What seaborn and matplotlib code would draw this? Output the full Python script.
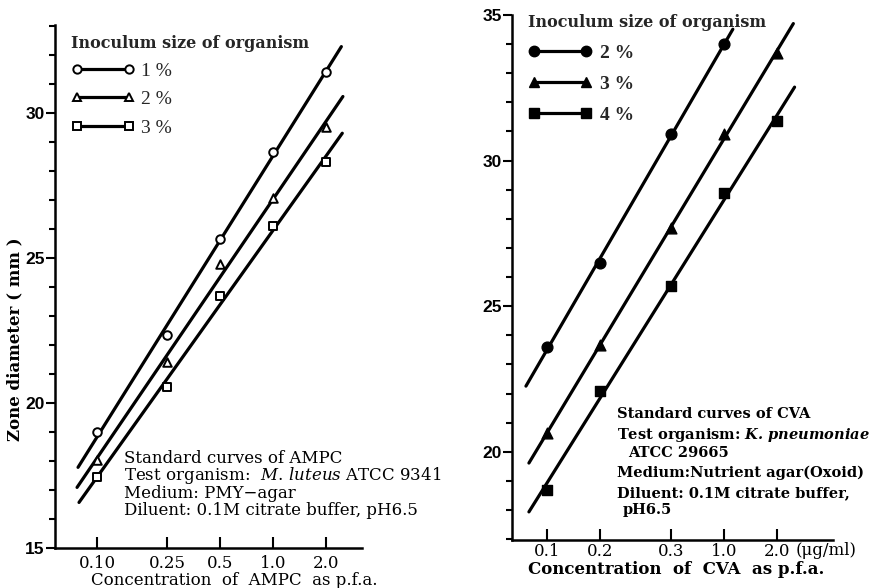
import numpy as np
import pandas as pd
import matplotlib
matplotlib.use('Agg')
import matplotlib.pyplot as plt
from matplotlib.lines import Line2D
from matplotlib.ticker import MultipleLocator, NullLocator, FixedLocator
import seaborn as sns

# ── Data ──────────────────────────────────────────────────
AMPC_CONC  = [0.10, 0.25, 0.5, 1.0, 2.0]
AMPC_TICKS = ['0.10', '0.25', '0.5', '1.0', '2.0']
AMPC_1PCT  = [19.0, 22.35, 25.65, 28.65, 31.4]
AMPC_2PCT  = [18.05, 21.4, 24.8, 27.05, 29.5]
AMPC_3PCT  = [17.45, 20.55, 23.7, 26.1, 28.3]
AMPC_LINE_X = [[0.078, 2.45], [0.077, 2.5], [0.079, 2.48]]

CVA_CONC   = [0.1, 0.2, 0.5, 1.0, 2.0]
CVA_TICKS  = ['0.1', '0.2', '0.3', '1.0', '2.0']
CVA_2PCT   = [23.6, 26.5, 30.9, 34.0]
CVA_3PCT   = [20.65, 23.65, 27.7, 30.9, 33.7]
CVA_4PCT   = [18.7, 22.1, 25.7, 28.9, 31.35]
CVA_LINE_X = [[0.076, 1.12], [0.079, 2.46], [0.079, 2.5]]

AMPC_LABELS = ['1 %', '2 %', '3 %']
CVA_LABELS  = ['2 %', '3 %', '4 %']

SERIF = ['DejaVu Serif']
NARROW = ['Liberation Serif', 'DejaVu Serif']

sns.set_theme(style='ticks')
plt.rcParams['font.family'] = SERIF
plt.rcParams['mathtext.fontset'] = 'custom'
plt.rcParams['mathtext.rm'] = 'DejaVu Serif'
plt.rcParams['mathtext.it'] = 'DejaVu Serif:italic'
plt.rcParams['mathtext.bf'] = 'DejaVu Serif:bold:italic'
plt.rcParams['axes.linewidth'] = 1.8


def fit_line(conc, vals, xr):
    # straight line of zone diameter against log concentration
    k, b = np.polyfit(np.log10(conc[:len(vals)]), vals, 1)
    xs = np.array(xr)
    return pd.DataFrame({'x': xs, 'y': k * np.log10(xs) + b})


def style_axes(ax, xlim, ylim, ticks, labels, xpad):
    ax.set_xscale('log')
    ax.set_xlim(*xlim)
    ax.set_ylim(*ylim)
    ax.xaxis.set_major_locator(FixedLocator(ticks))
    ax.xaxis.set_minor_locator(NullLocator())
    ax.set_xticklabels(labels, fontsize=12, family=SERIF)
    ax.yaxis.set_major_locator(MultipleLocator(5))
    ax.yaxis.set_minor_locator(MultipleLocator(1))
    for t in ax.get_yticklabels():
        t.set_family(['Liberation Sans', 'DejaVu Sans'])
        t.set_fontsize(12.5)
        t.set_fontweight('bold')
    ax.tick_params(axis='x', direction='in', length=8, width=1.5, pad=xpad, color='black', labelcolor='black')
    ax.tick_params(axis='y', which='major', direction='out', length=6.5, width=1.5, pad=1, color='black', labelcolor='black')
    ax.tick_params(axis='y', which='minor', direction='out', length=4, width=1.5, color='black')
    sns.despine(ax=ax)
    for s in ['left', 'bottom']:
        ax.spines[s].set_color('black')


fig = plt.figure(figsize=(8.71, 5.88), dpi=100)
ax1 = fig.add_axes([55 / 871, 1 - 548 / 588, 307 / 871, 523 / 588])
ax2 = fig.add_axes([512 / 871, 1 - 540 / 588, 321 / 871, 525 / 588])

# ── Left panel: AMPC ─────────────────────────────────────
ampc_series = [AMPC_1PCT, AMPC_2PCT, AMPC_3PCT]
ampc_marks = ['o', '^', 's']
for vals, xr, m in zip(ampc_series, AMPC_LINE_X, ampc_marks):
    line = fit_line(AMPC_CONC, vals, xr)
    sns.lineplot(data=line, x='x', y='y', ax=ax1, color='black', lw=2.3)
    sns.scatterplot(x=AMPC_CONC, y=vals, ax=ax1, marker=m, s=38,
                    facecolor='white', edgecolor='black', linewidth=1.4, zorder=3)

style_axes(ax1, (0.0577, 3.21), (15, 33.03), AMPC_CONC, AMPC_TICKS, xpad=5)
ax1.set_xlabel('Concentration  of  AMPC  as p.f.a.', fontsize=12, color='black')
ax1.xaxis.set_label_coords(0.585, -0.045)
ax1.set_ylabel('Zone diameter ( mm )', fontsize=12, fontweight='bold', color='black')
ax1.yaxis.set_label_coords(-0.104, 0.40)

h1 = [Line2D([], [], color='black', lw=2.3, marker=m, ms=6, mfc='white', mec='black', mew=1.4)
      for m in ampc_marks]
leg1 = ax1.legend(h1, AMPC_LABELS, loc='upper left', bbox_to_anchor=(-0.005, 1.015),
                  numpoints=2, handlelength=3.3, frameon=False,
                  title='Inoculum size of organism', labelspacing=0.55,
                  handletextpad=0.3, alignment='left', prop={'family': NARROW, 'size': 14})
leg1.get_title().set_fontsize(11.5)
leg1.get_title().set_fontweight('bold')

ampc_text = ['Standard curves of AMPC',
             r'Test organism:  $\mathit{M.\,luteus}$ ATCC 9341',
             'Medium: PMY\u2212agar',
             'Diluent: 0.1M citrate buffer, pH6.5']
for i, s in enumerate(ampc_text):
    ax1.text(0.225, 0.163 - i * 0.0335, s, transform=ax1.transAxes,
             fontsize=12, color='black', va='baseline')

# ── Right panel: CVA ─────────────────────────────────────
cva_series = [CVA_2PCT, CVA_3PCT, CVA_4PCT]
cva_marks = ['o', '^', 's']
for vals, xr, m in zip(cva_series, CVA_LINE_X, cva_marks):
    line = fit_line(CVA_CONC, vals, xr)
    sns.lineplot(data=line, x='x', y='y', ax=ax2, color='black', lw=2.3)
    sns.scatterplot(x=CVA_CONC[:len(vals)], y=vals, ax=ax2, marker=m, s=60,
                    color='black', edgecolor='black', linewidth=1, zorder=3)

style_axes(ax2, (0.0634, 4.12), (16.97, 35), CVA_CONC, CVA_TICKS, xpad=2.5)
ax2.set_xlabel('Concentration  of  CVA  as p.f.a.', fontsize=12, fontweight='bold', color='black')
ax2.xaxis.set_label_coords(0.51, -0.040)
ax2.set_ylabel('')
ax2.text(0.885, -0.020, '(\u03bcg/ml)', transform=ax2.transAxes, fontsize=12,
         va='center', ha='left', color='black')

h2 = [Line2D([], [], color='black', lw=2.3, marker=m, ms=7.5) for m in cva_marks]
leg2 = ax2.legend(h2, CVA_LABELS, loc='upper left', bbox_to_anchor=(-0.005, 1.035),
                  numpoints=2, handlelength=3.3, frameon=False,
                  title='Inoculum size of organism', labelspacing=0.68,
                  handletextpad=0.4, alignment='left', prop={'family': NARROW, 'size': 14, 'weight': 'bold'})
leg2.get_title().set_fontsize(11.5)
leg2.get_title().set_fontweight('bold')

cva_text = [('Standard curves of CVA', 0.0),
            (r'Test organism: $\mathbf{K.\,pneumoniae}$', 0.0),
            ('ATCC 29665', 0.035),
            ('Medium:Nutrient agar(Oxoid)', 0.0),
            ('Diluent: 0.1M citrate buffer,', 0.0),
            ('pH6.5', 0.018)]
ys = [418, 439, 457, 477, 497, 514]
for (s, dx), y in zip(cva_text, ys):
    ax2.text(0.327 + dx, (540 - y) / 525, s, transform=ax2.transAxes,
             fontsize=10.5, fontweight='bold', color='black', va='baseline')

fig.savefig('out.png', dpi=100, facecolor='white')
